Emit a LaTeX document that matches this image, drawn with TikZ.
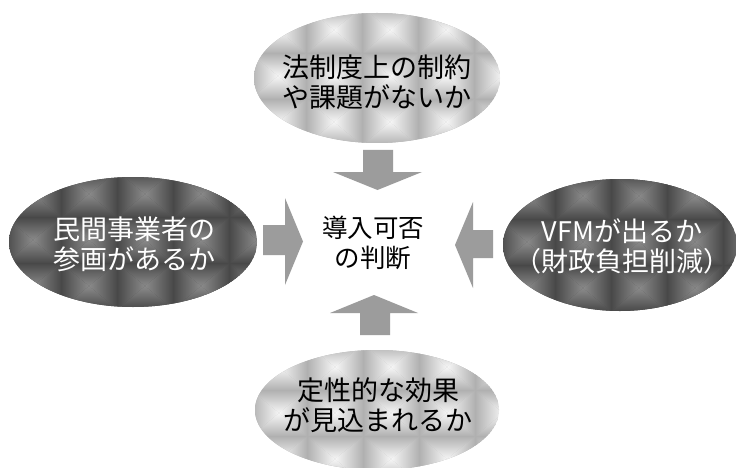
\documentclass[tikz,border=0pt]{standalone}
\usepackage{fontspec}
\newfontfamily\jpfont{Noto Sans CJK JP}
\definecolor{litE}{HTML}{B0B0B0}
\definecolor{litC}{HTML}{F6F6F6}
\definecolor{drkE}{HTML}{484848}
\definecolor{drkC}{HTML}{8A8A8A}
\definecolor{arrgray}{HTML}{9C9C9C}
\newcommand\tiledellipse[6]{% cx cy rx ry edgecolor centercolor
  \begin{scope}
    \clip (#1,#2) ellipse [x radius=#3pt, y radius=#4pt];
    \fill[#5] (#1,#2) ellipse [x radius=#3pt, y radius=#4pt];
    \foreach \i in {0,...,5}{
      \foreach \j in {0,...,3}{
        \pgfmathsetmacro\xa{#1-#3+56*\i-4}
        \pgfmathsetmacro\ya{#2-#4+46*\j-6}
        \pgfmathsetmacro\xb{\xa+56.4}
        \pgfmathsetmacro\yb{\ya+46.4}
        \pgfmathsetmacro\xc{\xa+28}
        \pgfmathsetmacro\yc{\ya+23}
        \shade[top color=#5, bottom color=#6] (\xa,\ya)--(\xb,\ya)--(\xc,\yc)--cycle;
        \shade[top color=#6, bottom color=#5] (\xa,\yb)--(\xb,\yb)--(\xc,\yc)--cycle;
        \shade[left color=#5, right color=#6] (\xa,\ya)--(\xa,\yb)--(\xc,\yc)--cycle;
        \shade[left color=#6, right color=#5] (\xb,\ya)--(\xb,\yb)--(\xc,\yc)--cycle;
      }
    }
  \end{scope}
}
\begin{document}
\begin{tikzpicture}[x=1pt,y=-1pt,
  lbl/.style={font=\jpfont\fontsize{27}{30}\selectfont, align=center, inner sep=0pt},
  mid/.style={font=\jpfont\fontsize{25.5}{30}\selectfont, align=center, inner sep=0pt},
  arr/.style={fill=arrgray}]
\useasboundingbox (0,0) rectangle (736,468);
\fill[white] (0,0) rectangle (736,468);
% ellipses
\tiledellipse{377}{78}{123}{65}{litE}{litC}
\tiledellipse{133}{242}{124}{65}{drkE}{drkC}
\tiledellipse{620}{245}{117}{66}{drkE}{drkC}
\tiledellipse{377}{410}{122}{60}{litE}{litC}
% texts
\node[lbl, text=black] (top) at (377,82) {法制度上の制約\\や課題がないか};
\node[lbl, text=white] (left) at (134,244) {民間事業者の\\参画があるか};
\node[lbl, text=white] (right) at (622,246) {VFMが出るか\\（財政負担削減）};
\node[lbl, text=black] (bottom) at (378,405) {定性的な効果\\が見込まれるか};
\node[mid, text=black] (center) at (373,243) {導入可否\\の判断};
% block arrows
\fill[arr] (363,150) -- (393,150) -- (393,172) -- (422,172) -- (377.5,190) -- (333,172) -- (363,172) -- cycle;
\fill[arr] (360,335) -- (390,335) -- (390,313) -- (418,313) -- (374,295) -- (330,313) -- (360,313) -- cycle;
\fill[arr] (263,225) -- (285,225) -- (285,198) -- (303,241.5) -- (285,285) -- (285,255) -- (263,255) -- cycle;
\fill[arr] (493,230) -- (473,230) -- (473,202) -- (455,245) -- (473,288) -- (473,258) -- (493,258) -- cycle;
\end{tikzpicture}
\end{document}
